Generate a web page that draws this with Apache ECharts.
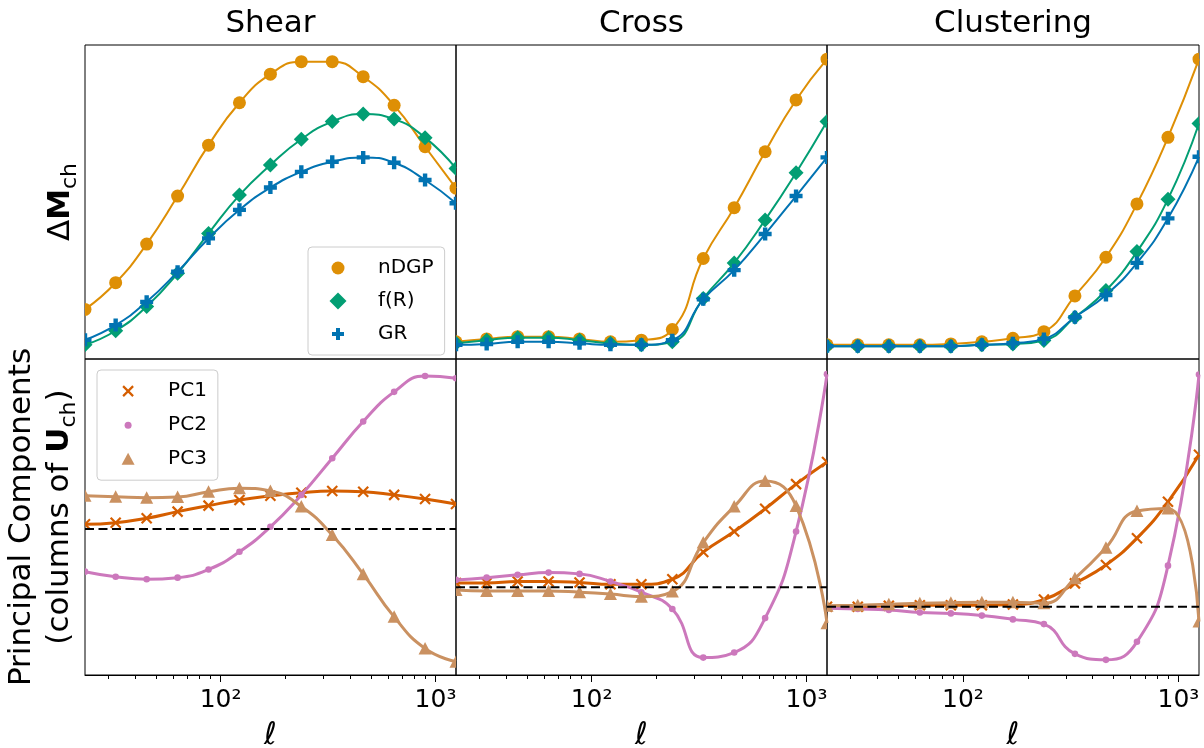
<!DOCTYPE html>
<html>
<head>
<meta charset="utf-8">
<script src="https://cdn.jsdelivr.net/npm/echarts@6/dist/echarts.min.js"></script>
<style>
  html, body { margin: 0; padding: 0; background: #ffffff; }
  #chart { width: 1204px; height: 748px; }
</style>
</head>
<body>
<div id="chart"></div>
<script>
// Multipole bins (log-spaced) shared by every panel
const ell = [23.4, 32.5, 45.3, 63.1, 87.9, 122.4, 170.5, 237.5, 330.8, 460.8, 641.9, 894.1, 1245.4];
const probes = ['Shear', 'Cross', 'Clustering'];

// Tick positions on the multipole axis
const majorTicks = [100, 1000];
const majorTickLabels = ['10²', '10³'];
const minorTicks = [30, 40, 50, 60, 70, 80, 90, 200, 300, 400, 500, 600, 700, 800, 900];

// ΔM_ch for each model (arbitrary normalisation)
const shearNDGP = [0.158, 0.243, 0.366, 0.519, 0.681, 0.816, 0.907, 0.947, 0.947, 0.899, 0.808, 0.676, 0.544];
const shearFR   = [0.045, 0.090, 0.167, 0.273, 0.400, 0.522, 0.618, 0.700, 0.756, 0.780, 0.764, 0.705, 0.607];
const shearGR   = [0.061, 0.108, 0.182, 0.278, 0.384, 0.475, 0.546, 0.596, 0.628, 0.642, 0.625, 0.570, 0.496];
const crossNDGP = [0.055, 0.064, 0.071, 0.071, 0.064, 0.055, 0.060, 0.094, 0.320, 0.482, 0.660, 0.825, 0.955];
const crossFR   = [0.050, 0.060, 0.068, 0.068, 0.060, 0.050, 0.045, 0.055, 0.193, 0.306, 0.443, 0.593, 0.756];
const crossGR   = [0.045, 0.048, 0.055, 0.055, 0.050, 0.045, 0.045, 0.060, 0.190, 0.283, 0.398, 0.519, 0.642];
const clustNDGP = [0.045, 0.045, 0.045, 0.045, 0.048, 0.055, 0.066, 0.087, 0.201, 0.324, 0.494, 0.706, 0.955];
const clustFR   = [0.041, 0.041, 0.041, 0.041, 0.041, 0.045, 0.048, 0.059, 0.133, 0.218, 0.342, 0.509, 0.750];
const clustGR   = [0.041, 0.041, 0.041, 0.041, 0.041, 0.045, 0.050, 0.064, 0.133, 0.204, 0.306, 0.448, 0.644];
const topRange = [0, 1];

// Principal components (columns of U_ch)
const shearPC1 = [0.015, 0.020, 0.034, 0.055, 0.074, 0.092, 0.105, 0.115, 0.120, 0.118, 0.108, 0.095, 0.079];
const shearPC2 = [-0.135, -0.151, -0.159, -0.154, -0.128, -0.072, 0.007, 0.108, 0.224, 0.340, 0.434, 0.484, 0.477];
const shearPC3 = [0.105, 0.102, 0.099, 0.101, 0.118, 0.129, 0.120, 0.071, -0.019, -0.143, -0.278, -0.378, -0.420];
const crossPC1 = [0.013, 0.013, 0.018, 0.018, 0.015, 0.009, 0.009, 0.025, 0.111, 0.176, 0.248, 0.326, 0.396];
const crossPC2 = [0.023, 0.030, 0.039, 0.046, 0.042, 0.018, -0.016, -0.069, -0.223, -0.207, -0.098, 0.176, 0.674];
const crossPC3 = [-0.009, -0.012, -0.012, -0.012, -0.016, -0.022, -0.030, -0.014, 0.141, 0.255, 0.336, 0.257, -0.114];
const clustPC1 = [0.000, 0.000, 0.003, 0.005, 0.005, 0.005, 0.007, 0.023, 0.074, 0.132, 0.217, 0.332, 0.481];
const clustPC2 = [-0.005, -0.007, -0.010, -0.018, -0.021, -0.028, -0.040, -0.055, -0.149, -0.168, -0.111, 0.130, 0.735];
const clustPC3 = [0.003, 0.005, 0.008, 0.011, 0.013, 0.014, 0.014, 0.011, 0.090, 0.187, 0.303, 0.311, -0.047];
const pcRanges = [[-0.462, 0.538], [-0.278, 0.722], [-0.216, 0.784]];
const pcReference = 0;

const FONT = 'DejaVu Sans';
const COLORS = {
  nDGP: '#de8f05', fR: '#029e73', GR: '#0173b2',
  PC1: '#d55e00', PC2: '#cc78bc', PC3: '#ca9161'
};

const modelCurves = [
  { name: 'nDGP', kind: 'circle',  color: COLORS.nDGP, values: [shearNDGP, crossNDGP, clustNDGP] },
  { name: 'f(R)', kind: 'diamond', color: COLORS.fR,   values: [shearFR, crossFR, clustFR] },
  { name: 'GR',   kind: 'plus',    color: COLORS.GR,   values: [shearGR, crossGR, clustGR] }
];
const pcCurves = [
  { name: 'PC1', kind: 'cross',    color: COLORS.PC1, values: [shearPC1, crossPC1, clustPC1] },
  { name: 'PC2', kind: 'dot',      color: COLORS.PC2, values: [shearPC2, crossPC2, clustPC2] },
  { name: 'PC3', kind: 'triangle', color: COLORS.PC3, values: [shearPC3, crossPC3, clustPC3] }
];

// Panel layout
const colLeft = [85, 456, 827];
const colWidth = [371, 371, 372];
const rowTop = [45, 359];
const rowHeight = [314, 316];

const lg = Math.log10;
const xMin = lg(ell[0]);
const xMax = lg(ell[ell.length - 1]);

// Marker glyphs, drawn around the projected data point
function markerRenderer(kind, color) {
  return function (params, api) {
    const pt = api.coord([api.value(0), api.value(1)]);
    const x = pt[0], y = pt[1];
    const fill = { fill: color };
    if (kind === 'circle') {
      return { type: 'circle', z2: 20, shape: { cx: x, cy: y, r: 6.5 }, style: fill };
    }
    if (kind === 'dot') {
      return { type: 'circle', z2: 20, shape: { cx: x, cy: y, r: 3.3 }, style: fill };
    }
    if (kind === 'diamond') {
      const d = 7.5;
      return { type: 'polygon', z2: 20, shape: { points: [[x, y - d], [x + d, y], [x, y + d], [x - d, y]] }, style: fill };
    }
    if (kind === 'triangle') {
      return { type: 'polygon', z2: 20, shape: { points: [[x, y - 6.5], [x + 6.5, y + 6], [x - 6.5, y + 6]] }, style: fill };
    }
    if (kind === 'plus') {
      const a = 6.5, b = 2.2;
      return {
        type: 'polygon', z2: 20, style: fill,
        shape: { points: [[x - b, y - a], [x + b, y - a], [x + b, y - b], [x + a, y - b], [x + a, y + b], [x + b, y + b],
                          [x + b, y + a], [x - b, y + a], [x - b, y + b], [x - a, y + b], [x - a, y - b], [x - b, y - b]] }
      };
    }
    // 'cross'
    const c = 5;
    const st = { stroke: color, lineWidth: 2.2, lineCap: 'butt' };
    return {
      type: 'group',
      children: [
        { type: 'line', z2: 20, shape: { x1: x - c, y1: y - c, x2: x + c, y2: y + c }, style: st },
        { type: 'line', z2: 20, shape: { x1: x - c, y1: y + c, x2: x + c, y2: y - c }, style: st }
      ]
    };
  };
}

// Legend icons in an 18x18 box
const ICONS = {
  circle:   'path://M0 0M18 18M2.5 9A6.5 6.5 0 1 1 15.5 9A6.5 6.5 0 1 1 2.5 9Z',
  diamond:  'path://M0 0M18 18M9 0.5L17.5 9L9 17.5L0.5 9Z',
  plus:     'path://M0 0M18 18M7 3H11V7H15V11H11V15H7V11H3V7H7Z',
  cross:    'path://M0 0M18 18M4 4L14 14M14 4L4 14',
  dot:      'path://M0 0M18 18M5.5 9A3.5 3.5 0 1 1 12.5 9A3.5 3.5 0 1 1 5.5 9Z',
  triangle: 'path://M0 0M18 18M9 2.5L15.5 14.5H2.5Z'
};

const grids = [];
const xAxes = [];
const yAxes = [];
const series = [];

for (let row = 0; row < 2; row++) {
  for (let col = 0; col < 3; col++) {
    const g = grids.length;
    grids.push({
      left: colLeft[col], top: rowTop[row], width: colWidth[col], height: rowHeight[row],
      show: true, borderColor: '#000000', borderWidth: 1, backgroundColor: 'transparent',
      containLabel: false, outerBoundsMode: 'none'
    });

    const yIndex = yAxes.length;
    const yr = row === 0 ? topRange : pcRanges[col];
    yAxes.push({ type: 'value', gridIndex: g, min: yr[0], max: yr[1], show: false });

    const xIndex = xAxes.length;
    if (row === 0) {
      xAxes.push({ type: 'value', gridIndex: g, min: xMin, max: xMax, show: false, axisLine: { onZero: false } });
    } else {
      xAxes.push({
        type: 'value', gridIndex: g, min: xMin, max: xMax, position: 'bottom',
        axisLine: { show: true, onZero: false, lineStyle: { color: '#000000', width: 1 } },
        axisTick: { show: true, customValues: majorTicks.map(lg), length: 7, lineStyle: { color: '#000000', width: 1 } },
        axisLabel: {
          show: true, customValues: majorTicks.map(lg), margin: 11,
          fontFamily: FONT, fontSize: 25, lineHeight: 28, color: '#000000',
          formatter: function (v) {
            const k = majorTicks.findIndex(t => Math.abs(lg(t) - v) < 1e-6);
            return k >= 0 ? majorTickLabels[k] : '';
          }
        },
        splitLine: { show: false },
        name: 'ℓ', nameLocation: 'middle', nameGap: 45,
        nameTextStyle: { fontFamily: FONT, fontSize: 31, fontStyle: 'italic', lineHeight: 31, color: '#000000' }
      });
      xAxes.push({
        type: 'value', gridIndex: g, min: xMin, max: xMax, position: 'bottom',
        axisLine: { show: false, onZero: false },
        axisTick: { show: true, customValues: minorTicks.map(lg), length: 4, lineStyle: { color: '#000000', width: 1 } },
        axisLabel: { show: false },
        splitLine: { show: false }
      });
    }

    const curves = row === 0 ? modelCurves : pcCurves;
    const lineWidth = row === 0 ? 2 : 3;
    curves.forEach((cv, k) => {
      const pts = ell.map((l, i) => [lg(l), cv.values[col][i]]);
      series.push({
        type: 'line', name: cv.name, xAxisIndex: xIndex, yAxisIndex: yIndex,
        data: pts, smooth: 0.5, symbol: 'none', clip: true, silent: true,
        lineStyle: { color: cv.color, width: lineWidth },
        itemStyle: { color: cv.color },
        z: 3 + k
      });
      series.push({
        type: 'custom', name: cv.name, xAxisIndex: xIndex, yAxisIndex: yIndex,
        data: pts, encode: { x: 0, y: 1 }, clip: true, silent: true,
        itemStyle: { color: cv.color },
        renderItem: markerRenderer(cv.kind, cv.color),
        z: 3 + k
      });
    });

    // dashed reference line at zero across the panel
    if (row === 1) {
      series.push({
        type: 'line', name: 'zero', xAxisIndex: xIndex, yAxisIndex: yIndex,
        data: [[xMin, pcReference], [xMax, pcReference]],
        symbol: 'none', silent: true, clip: true,
        lineStyle: { color: '#000000', width: 2, type: [9, 4.5] },
        z: 8
      });
    }
  }
}

function legendFor(curves, left, top, gap) {
  return {
    orient: 'vertical', left: left, top: top,
    padding: [11, 11, 11, 21], itemGap: gap, itemWidth: 18, itemHeight: 18,
    selectedMode: false,
    borderColor: '#cccccc', borderWidth: 1, borderRadius: 4,
    backgroundColor: 'rgba(255,255,255,0.8)',
    textStyle: { fontFamily: FONT, fontSize: 20, lineHeight: 18, color: '#000000', padding: [0, 0, 0, 26] },
    data: curves.map(cv => ({
      name: cv.name,
      icon: ICONS[cv.kind],
      itemStyle: cv.kind === 'cross'
        ? { color: cv.color, borderColor: cv.color, borderWidth: 2.2 }
        : { color: cv.color, borderWidth: 0 }
    }))
  };
}

const titleText = probes.map((p, c) => ({
  type: 'text', x: colLeft[c] + colWidth[c] / 2, y: 24, silent: true,
  style: { text: p, fontFamily: FONT, fontSize: 31, fill: '#000000', align: 'center', verticalAlign: 'middle' }
}));

const yLabelRich = {
  n: { fontFamily: FONT, fontSize: 31, lineHeight: 38, fill: '#000000' },
  b: { fontFamily: FONT, fontSize: 31, lineHeight: 38, fontWeight: 'bold', fill: '#000000' },
  s: { fontFamily: FONT, fontSize: 22, lineHeight: 20, padding: [18, 0, 0, 0], fill: '#000000' }
};

const option = {
  animation: false,
  backgroundColor: '#ffffff',
  textStyle: { fontFamily: FONT },
  grid: grids,
  xAxis: xAxes,
  yAxis: yAxes,
  legend: [
    legendFor(modelCurves, 308, 247, 13),
    legendFor(pcCurves, 97, 370, 14)
  ],
  series: series,
  graphic: titleText.concat([
    {
      type: 'text', x: 61, y: 202, rotation: Math.PI / 2, silent: true,
      style: { text: '{n|Δ}{b|M}{s|ch}', rich: yLabelRich, align: 'center', verticalAlign: 'middle' }
    },
    {
      type: 'text', x: 41, y: 517, rotation: Math.PI / 2, silent: true,
      style: {
        text: '{n|Principal Components}\n{n|(columns of }{b|U}{s|ch}{n|)}',
        rich: yLabelRich, align: 'center', verticalAlign: 'middle'
      }
    }
  ])
};

const chart = echarts.init(document.getElementById('chart'), null, { renderer: 'canvas' });
chart.setOption(option);
</script>
</body>
</html>
